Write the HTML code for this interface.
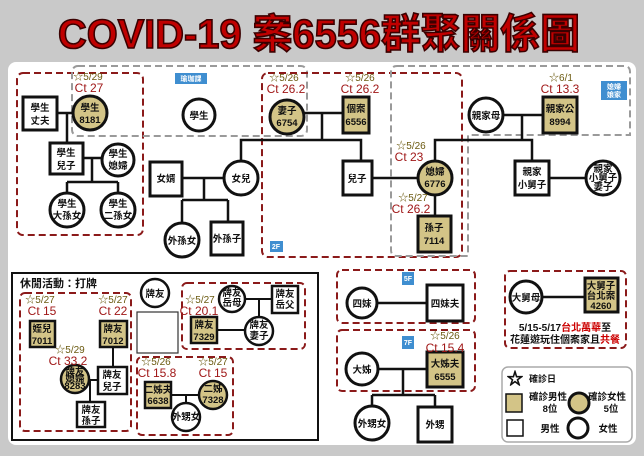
<!DOCTYPE html>
<html><head><meta charset="utf-8"><style>
html,body{margin:0;padding:0;background:#c9c9c9;}
svg{display:block;font-family:"Liberation Sans","Noto Sans CJK TC",sans-serif;}
.n{font-size:9.5px;font-weight:bold;text-anchor:middle;fill:#111;}
.s{font-size:10px;fill:#6b5a10;text-anchor:middle;}
.c{font-size:12px;fill:#a01818;text-anchor:middle;}
.l{stroke:#111;stroke-width:2.5;fill:none;}
.sq{stroke:#111;stroke-width:3;fill:#fff;}
.sqt{stroke:#111;stroke-width:3;fill:#d3c487;}
.rd{stroke:#8b1a1a;stroke-width:2;stroke-dasharray:7,4;fill:none;}
.gd{stroke:#9a9a9a;stroke-width:2;stroke-dasharray:7,4;fill:none;}
.lab{fill:#3f8ed0;}
.lt{font-size:7px;fill:#fff;text-anchor:middle;font-weight:bold;}
</style></head><body>
<svg width="644" height="456" viewBox="0 0 644 456" xmlns="http://www.w3.org/2000/svg">
<rect x="0" y="0" width="644" height="456" fill="#c9c9c9"/>
<text x="319" y="48" font-size="41" font-weight="bold" text-anchor="middle" fill="#c00000" stroke="#3a0000" stroke-width="1.6" textLength="522" lengthAdjust="spacingAndGlyphs">COVID-19 案6556群聚關係圖</text>
<rect x="8" y="62" width="628" height="383" rx="8" fill="#fff"/>

<rect class="rd" x="17" y="73" width="126" height="162" rx="6"/>
<rect class="gd" x="72" y="66" width="235" height="70" rx="6"/>
<rect class="rd" x="262" y="73" width="200" height="184" rx="6"/>
<path class="gd" d="M397 66 H624 Q630 66 630 72 V135 H468 V256 H397 Q391 256 391 250 V72 Q391 66 397 66 Z"/>
<rect class="lab" x="175" y="73" width="32" height="11"/><text class="lt" x="191" y="81">瑜珈課</text>
<rect class="lab" x="270" y="241" width="13" height="11"/><text class="lt" x="276" y="249">2F</text>
<rect class="lab" x="601" y="81" width="26" height="19"/><text class="lt" x="614" y="89">媳婦</text><text class="lt" x="614" y="97">娘家</text>

<path class="l" d="M57 113 H73 M67 113 V143 M83 158 H102 M92 158 V182 M67 182 H118 M67 182 V193 M118 182 V193"/>
<path class="l" d="M182 178 H224 M204 178 V200 M182 200 H228 M182 200 V223 M228 200 V222 M241 161 V140 H361 V161 M304 113 H343 M322 113 V140 M372 178 H418 M435 195 V216 M435 161 V140 H532 V161 M503 115 H543 M522 115 V140 M549 178 H586"/>

<rect class="sq" x="23" y="97" width="34" height="33"/><text class="n" x="40" y="111">學生</text><text class="n" x="40" y="124">丈夫</text>
<circle class="sqt" cx="90" cy="113" r="17"/><text class="n" x="90" y="111">學生</text><text class="n" x="90" y="123">8181</text>
<text class="s" x="88" y="80">☆5/29</text><text class="c" x="89" y="92">Ct 27</text>
<circle class="sq" cx="199" cy="115" r="16"/><text class="n" x="199" y="119">學生</text>
<rect class="sq" x="50" y="143" width="33" height="31"/><text class="n" x="66" y="156">學生</text><text class="n" x="66" y="169">兒子</text>
<circle class="sq" cx="118" cy="160" r="16"/><text class="n" x="118" y="157">學生</text><text class="n" x="118" y="169">媳婦</text>
<circle class="sq" cx="67" cy="210" r="17"/><text class="n" x="67" y="207">學生</text><text class="n" x="67" y="219">大孫女</text>
<circle class="sq" cx="118" cy="210" r="17"/><text class="n" x="118" y="207">學生</text><text class="n" x="118" y="219">二孫女</text>
<rect class="sq" x="150" y="162" width="32" height="34"/><text class="n" x="166" y="182">女婿</text>
<circle class="sq" cx="241" cy="178" r="17"/><text class="n" x="241" y="182">女兒</text>
<circle class="sq" cx="182" cy="240" r="17"/><text class="n" x="182" y="244">外孫女</text>
<rect class="sq" x="211" y="222" width="32" height="33"/><text class="n" x="227" y="242">外孫子</text>
<circle class="sqt" cx="287" cy="117" r="17"/><text class="n" x="287" y="114">妻子</text><text class="n" x="287" y="126">6754</text>
<text class="s" x="284" y="81">☆5/26</text><text class="c" x="286" y="93">Ct 26.2</text>
<rect class="sqt" x="343" y="97" width="26" height="36"/><text class="n" x="356" y="112">個案</text><text class="n" x="356" y="125">6556</text>
<text class="s" x="360" y="81">☆5/26</text><text class="c" x="360" y="93">Ct 26.2</text>
<rect class="sq" x="343" y="161" width="29" height="34"/><text class="n" x="357" y="182">兒子</text>
<circle class="sqt" cx="435" cy="178" r="17"/><text class="n" x="435" y="175">媳婦</text><text class="n" x="435" y="187">6776</text>
<text class="s" x="411" y="149">☆5/26</text><text class="c" x="409" y="161">Ct 23</text>
<rect class="sqt" x="418" y="216" width="33" height="36"/><text class="n" x="434" y="231">孫子</text><text class="n" x="434" y="244">7114</text>
<text class="s" x="413" y="201">☆5/27</text><text class="c" x="411" y="213">Ct 26.2</text>
<circle class="sq" cx="486" cy="115" r="17"/><text class="n" x="486" y="119">親家母</text>
<rect class="sqt" x="543" y="97" width="34" height="36"/><text class="n" x="560" y="112">親家公</text><text class="n" x="560" y="125">8994</text>
<text class="s" x="561" y="81">☆6/1</text><text class="c" x="560" y="93">Ct 13.3</text>
<rect class="sq" x="515" y="161" width="34" height="34"/><text class="n" x="532" y="175">親家</text><text class="n" x="532" y="188">小舅子</text>
<circle class="sq" cx="603" cy="178" r="17"/><text class="n" x="603" y="172" font-size="8">親家</text><text class="n" x="603" y="181" font-size="8">小舅子</text><text class="n" x="603" y="190" font-size="8">妻子</text>

<rect x="12" y="273" width="306" height="167" fill="none" stroke="#111" stroke-width="2"/>
<text x="20" y="287" font-size="11" font-weight="bold" fill="#111">休閒活動：打牌</text>
<rect class="rd" x="20" y="293" width="111" height="138" rx="5"/>
<rect class="rd" x="182" y="283" width="123" height="66" rx="5"/>
<rect class="rd" x="137" y="357" width="96" height="78" rx="5"/>
<path class="l" d="M113 347 V367 M89 380 H98 M90 380 V402 M245 299 H272 M259 299 V317 M217 330 H245 M171 395 H199 M186 395 V403" style="stroke-width:2"/>
<circle class="sq" cx="155" cy="293" r="14" style="stroke-width:2.5"/><text class="n" x="155" y="297">牌友</text>
<rect x="137" y="312" width="41" height="41" fill="#fff" stroke="#333" stroke-width="1.2"/>
<rect class="sqt" x="30" y="321" width="25" height="26" style="stroke-width:2.5"/><text class="n" x="42" y="332" font-size="9">姪兒</text><text class="n" x="42" y="344" font-size="9">7011</text>
<text class="s" x="40" y="303">☆5/27</text><text class="c" x="42" y="315">Ct 15</text>
<rect class="sqt" x="100" y="321" width="27" height="26" style="stroke-width:2.5"/><text class="n" x="113" y="332" font-size="9">牌友</text><text class="n" x="113" y="344" font-size="9">7012</text>
<text class="s" x="113" y="303">☆5/27</text><text class="c" x="113" y="315">Ct 22</text>
<rect class="sq" x="98" y="367" width="29" height="27" style="stroke-width:2.5"/><text class="n" x="112" y="378">牌友</text><text class="n" x="112" y="390">兒子</text>
<circle class="sqt" cx="75" cy="379" r="14" style="stroke-width:2.5"/><text class="n" x="75" y="375" font-size="6.5">牌友</text><text class="n" x="75" y="382" font-size="6.5">媳婦</text><text class="n" x="75" y="389" font-size="6.5">8283</text>
<text class="s" x="70" y="353">☆5/29</text><text class="c" x="68" y="365">Ct 33.2</text>
<rect class="sq" x="77" y="402" width="28" height="25" style="stroke-width:2.5"/><text class="n" x="91" y="413">牌友</text><text class="n" x="91" y="424">孫子</text>
<circle class="sq" cx="232" cy="299" r="13" style="stroke-width:2.5"/><text class="n" x="232" y="296" font-size="8">牌友</text><text class="n" x="232" y="306" font-size="8">岳母</text>
<rect class="sq" x="272" y="286" width="26" height="27" style="stroke-width:2.5"/><text class="n" x="285" y="297" font-size="9">牌友</text><text class="n" x="285" y="308" font-size="9">岳父</text>
<circle class="sq" cx="259" cy="331" r="14" style="stroke-width:2.5"/><text class="n" x="259" y="328" font-size="9">牌友</text><text class="n" x="259" y="339" font-size="9">妻子</text>
<rect class="sqt" x="191" y="317" width="26" height="26" style="stroke-width:2.5"/><text class="n" x="204" y="328" font-size="9">牌友</text><text class="n" x="204" y="340" font-size="9">7329</text>
<text class="s" x="200" y="303">☆5/27</text><text class="c" x="199" y="315">Ct 20.1</text>
<rect class="sqt" x="145" y="382" width="26" height="26" style="stroke-width:2.5"/><text class="n" x="158" y="393" font-size="8">二姊夫</text><text class="n" x="158" y="404" font-size="9">6638</text>
<text class="s" x="156" y="365">☆5/26</text><text class="c" x="157" y="377">Ct 15.8</text>
<circle class="sqt" cx="213" cy="395" r="14" style="stroke-width:2.5"/><text class="n" x="213" y="392" font-size="9">二姊</text><text class="n" x="213" y="403" font-size="9">7328</text>
<text class="s" x="213" y="365">☆5/27</text><text class="c" x="213" y="377">Ct 15</text>
<circle class="sq" cx="186" cy="417" r="14" style="stroke-width:2.5"/><text class="n" x="186" y="420" font-size="8">外甥女</text>

<rect class="rd" x="337" y="270" width="138" height="53" rx="5"/>
<rect class="lab" x="402" y="272" width="12" height="13"/><text class="lt" x="408" y="281">5F</text>
<path class="l" d="M377 303 H427"/>
<circle class="sq" cx="362" cy="303" r="15"/><text class="n" x="362" y="307">四妹</text>
<rect class="sq" x="427" y="285" width="36" height="36"/><text class="n" x="445" y="307">四妹夫</text>
<rect class="rd" x="337" y="330" width="138" height="61" rx="5"/>
<rect class="lab" x="402" y="336" width="12" height="13"/><text class="lt" x="408" y="345">7F</text>
<path class="l" d="M378 369 H427 M403 369 V395 M372 395 H435 M372 395 V406 M435 395 V407"/>
<circle class="sq" cx="362" cy="369" r="16"/><text class="n" x="362" y="373">大姊</text>
<rect class="sqt" x="427" y="352" width="36" height="35"/><text class="n" x="445" y="367">大姊夫</text><text class="n" x="445" y="380">6555</text>
<text class="s" x="445" y="339">☆5/26</text><text class="c" x="445" y="352">Ct 15.4</text>
<circle class="sq" cx="372" cy="423" r="17"/><text class="n" x="372" y="427">外甥女</text>
<rect class="sq" x="418" y="407" width="34" height="35"/><text class="n" x="435" y="428">外甥</text>

<rect class="rd" x="505" y="271" width="121" height="77" rx="5"/>
<path class="l" d="M542 297 H585"/>
<circle class="sq" cx="526" cy="297" r="16"/><text class="n" x="526" y="301">大舅母</text>
<rect class="sqt" x="585" y="278" width="33" height="34"/><text class="n" x="601" y="289" font-size="9">大舅子</text><text class="n" x="601" y="299" font-size="9">台北案</text><text class="n" x="601" y="309" font-size="9">4260</text>
<text x="565" y="331" font-size="10" font-weight="bold" text-anchor="middle" fill="#111">5/15-5/17<tspan fill="#c00">台北萬華</tspan>至</text>
<text x="565" y="343" font-size="10" font-weight="bold" text-anchor="middle" fill="#111">花蓮遊玩住個案家且<tspan fill="#c00">共餐</tspan></text>

<rect x="502" y="367" width="130" height="75" rx="6" fill="#fff" stroke="#aaa" stroke-width="1.5"/>
<text x="507" y="384" font-size="16" fill="#fff" stroke="#111" stroke-width="1">☆</text>
<text x="529" y="382" font-size="9" font-weight="bold" fill="#111">確診日</text>
<rect x="506" y="394" width="16" height="18" fill="#d3c487" stroke="#111" stroke-width="1.5"/>
<text class="n" x="548" y="400" font-size="9">確診男性</text><text class="n" x="550" y="412" font-size="9">8位</text>
<circle cx="579" cy="403" r="10" fill="#d3c487" stroke="#111" stroke-width="3"/>
<text class="n" x="607" y="400" font-size="9">確診女性</text><text class="n" x="611" y="412" font-size="9">5位</text>
<rect x="507" y="420" width="16" height="16" fill="#fff" stroke="#111" stroke-width="1.5"/>
<text class="n" x="550" y="432" font-size="9">男性</text>
<circle cx="578" cy="428" r="10" fill="#fff" stroke="#111" stroke-width="3"/>
<text class="n" x="608" y="432" font-size="9">女性</text>
</svg>
</body></html>
